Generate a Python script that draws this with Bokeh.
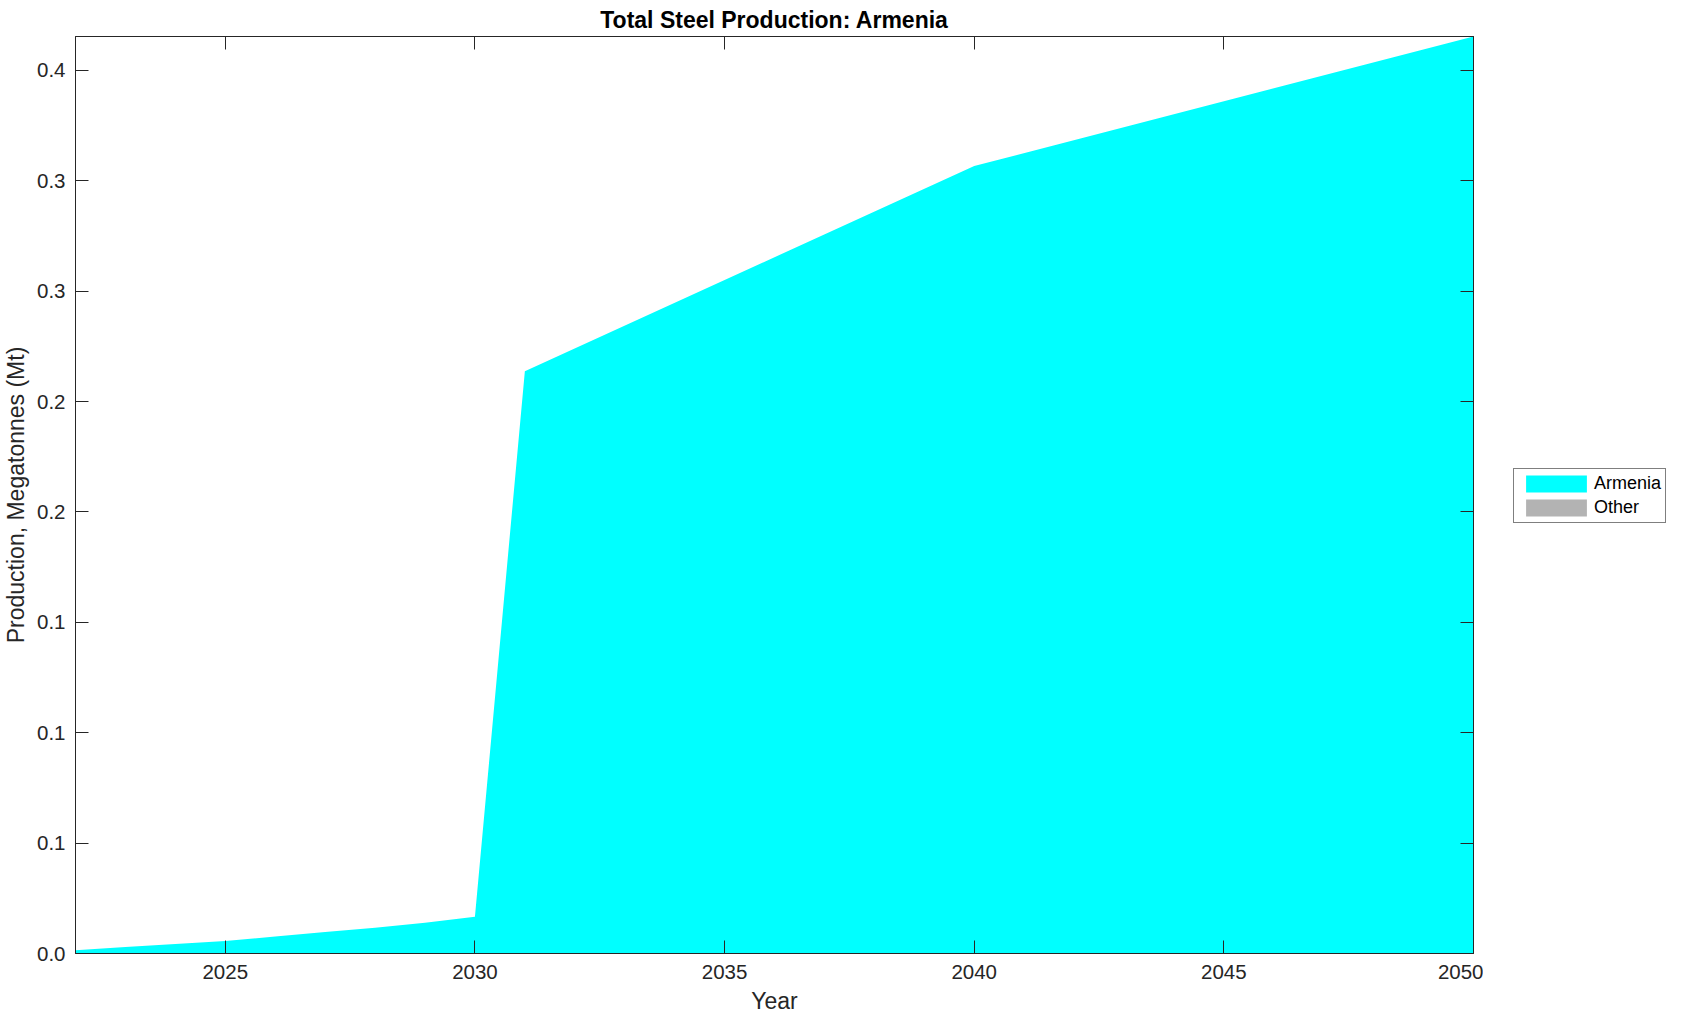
from bokeh.plotting import figure
from bokeh.layouts import row
from bokeh.models import (Range1d, LinearAxis, FixedTicker, Legend, LegendItem,
                          ColumnDataSource)
from bokeh.embed import file_html
from bokeh.resources import INLINE

# ---- data ----
years = [2022, 2023, 2024, 2025, 2026, 2027, 2028, 2029, 2030, 2031, 2040, 2050]
armenia = [0.0015, 0.0029, 0.0043, 0.0057, 0.0077, 0.0097, 0.0117, 0.0139,
           0.0166, 0.2638, 0.3567, 0.4154]
other = [0.0] * len(years)
series_names = ["Armenia", "Other"]
series_colors = ["#00ffff", "#b3b3b3"]
x_ticks = [2025, 2030, 2035, 2040, 2045, 2050]
y_ticks = [0.0, 0.05, 0.10, 0.15, 0.20, 0.25, 0.30, 0.35, 0.40]
y_tick_labels = ["0.0", "0.1", "0.1", "0.1", "0.2", "0.2", "0.3", "0.3", "0.4"]
y_max = max(a + o for a, o in zip(armenia, other))

FONT = "Liberation Sans"
AX = "#262626"

src = ColumnDataSource(dict(year=years, Armenia=armenia, Other=other))

p = figure(frame_width=1398, frame_height=917,
           min_border_left=69, min_border_right=10, min_border_top=31,
           min_border_bottom=40,
           x_range=Range1d(years[0], years[-1]), y_range=Range1d(0, y_max),
           output_backend="svg", toolbar_location=None,
           x_axis_label="Year", y_axis_label="Production, Megatonnes (Mt)")

p.varea_stack(stackers=series_names, x="year", color=series_colors, source=src)

p.title.text = "Total Steel Production: Armenia"
p.title.align = "center"
p.title.text_font = FONT
p.title.text_font_size = "23px"
p.title.text_font_style = "bold"
p.title.text_color = "#000000"
p.title.standoff = 8

p.xgrid.visible = False
p.ygrid.visible = False
p.outline_line_color = AX
p.outline_line_width = 1
p.background_fill_color = "white"
p.border_fill_color = "white"

def style_axis(ax, labels=True):
    ax.axis_line_color = AX
    ax.major_tick_line_color = AX
    ax.major_tick_in = 13
    ax.major_tick_out = 0
    ax.minor_tick_line_color = None
    ax.major_label_text_font = FONT
    ax.major_label_text_font_size = "20.5px"
    ax.major_label_text_color = AX
    ax.axis_label_text_font = FONT
    ax.axis_label_text_font_size = "23px"
    ax.axis_label_text_font_style = "normal"
    ax.axis_label_text_color = AX
    if not labels:
        ax.major_label_overrides = {t: "" for t in ax.ticker.ticks}
        ax.major_label_standoff = 0
        ax.axis_label_standoff = 0

xa = p.xaxis[0]
xa.ticker = FixedTicker(ticks=x_ticks)
style_axis(xa)
xa.major_label_standoff = 11
xa.axis_label_standoff = 6

ya = p.yaxis[0]
ya.ticker = FixedTicker(ticks=y_ticks)
ya.major_label_overrides = {t: l for t, l in zip(y_ticks, y_tick_labels)}
style_axis(ya)
ya.major_label_standoff = 10
ya.axis_label_standoff = 5

top = LinearAxis(ticker=FixedTicker(ticks=x_ticks))
style_axis(top, labels=False)
p.add_layout(top, "above")

right = LinearAxis(ticker=FixedTicker(ticks=y_ticks))
style_axis(right, labels=False)
p.add_layout(right, "right")

# ---- legend panel (small figure to the right of the axes) ----
leg_fig = figure(width=188, height=1005, min_border=0,
                 x_range=Range1d(0, 1), y_range=Range1d(0, 1),
                 x_axis_location=None, y_axis_location=None,
                 output_backend="svg", toolbar_location=None)
leg_fig.title.visible = False
leg_fig.grid.visible = False
leg_fig.outline_line_color = None
leg_fig.background_fill_color = "white"
leg_fig.border_fill_color = "white"
leg_renderers = leg_fig.varea_stack(stackers=series_names, x="year",
                                    color=series_colors, source=src)

legend = Legend(items=[LegendItem(label=n, renderers=[r])
                       for n, r in zip(series_names, leg_renderers)],
                location=(30, 419))
legend.label_text_font = FONT
legend.label_text_font_size = "18px"
legend.label_text_color = "#000000"
legend.glyph_width = 76
legend.glyph_height = 21
legend.label_height = 21
legend.label_standoff = 0
legend.spacing = 3
legend.padding = 4
legend.margin = 0
legend.border_line_color = "#000000"
legend.border_line_width = 1
legend.background_fill_color = "white"
legend.background_fill_alpha = 1.0
leg_fig.add_layout(legend, "center")

layout = row(p, leg_fig, spacing=0)
open("out.html", "w").write(file_html(layout, INLINE))
